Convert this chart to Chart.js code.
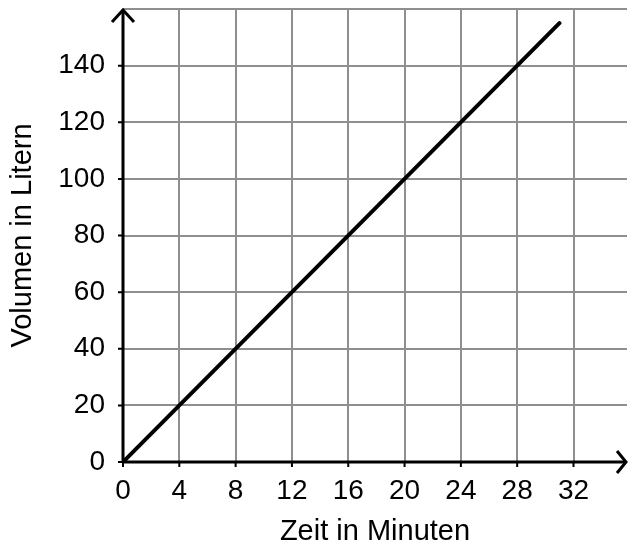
<!DOCTYPE html>
<html>
<head>
<meta charset="utf-8">
<script src="https://cdn.jsdelivr.net/npm/chart.js@4/dist/chart.umd.min.js"></script>
<style>
  html, body { margin: 0; padding: 0; background: #fff; }
  #wrap { width: 628px; height: 546px; }
</style>
</head>
<body>
<div id="wrap"><canvas id="volChart" width="628" height="546"></canvas></div>
<script>
// Werte
const zeitMin = [0, 31];
const volumenL = [0, 155];
const xTickStep = 4;
const yTickStep = 20;
const xMax = 35.8;
const yMax = 160;

const tickFont = { family: "'Liberation Sans', Arial, sans-serif", size: 28 };
const titleFont = { family: "'Liberation Sans', Arial, sans-serif", size: 29, lineHeight: 1 };

// Achsen mit Pfeilen und kleinen Strichen
const arrowAxes = {
  id: 'arrowAxes',
  afterDatasetsDraw(chart) {
    const { ctx, chartArea: a, scales: { x, y } } = chart;
    const x0 = x.getPixelForValue(0), y0 = y.getPixelForValue(0);
    ctx.save();
    ctx.strokeStyle = '#000';
    ctx.lineCap = 'butt';
    // tick marks
    ctx.lineWidth = 2;
    ctx.beginPath();
    x.ticks.forEach(t => {
      const px = x.getPixelForValue(t.value);
      ctx.moveTo(px, y0); ctx.lineTo(px, y0 + 5);
    });
    y.ticks.forEach(t => {
      if (t.value >= yMax) return;
      const py = y.getPixelForValue(t.value);
      ctx.moveTo(x0 - 5, py); ctx.lineTo(x0, py);
    });
    ctx.stroke();
    // axis lines
    ctx.lineWidth = 3;
    ctx.beginPath();
    ctx.moveTo(x0, y0); ctx.lineTo(x0, a.top + 1);
    ctx.moveTo(x0, y0); ctx.lineTo(a.right - 1, y0);
    ctx.stroke();
    // arrow heads
    ctx.lineJoin = 'miter';
    ctx.beginPath();
    ctx.moveTo(x0 - 11, a.top + 13); ctx.lineTo(x0, a.top + 1); ctx.lineTo(x0 + 11, a.top + 13);
    ctx.moveTo(a.right - 10, y0 - 11); ctx.lineTo(a.right - 1, y0); ctx.lineTo(a.right - 10, y0 + 11);
    ctx.stroke();
    ctx.restore();
  }
};

new Chart(document.getElementById('volChart').getContext('2d'), {
  type: 'line',
  data: {
    datasets: [{
      label: 'Volumen',
      data: zeitMin.map((t, i) => ({ x: t, y: volumenL[i] })),
      borderColor: '#000',
      borderWidth: 4,
      borderCapStyle: 'round',
      pointRadius: 0,
      tension: 0
    }]
  },
  options: {
    responsive: false,
    animation: false,
    layout: { padding: { top: 9, right: 1, left: 0, bottom: 0 } },
    plugins: {
      legend: { display: false },
      tooltip: { enabled: false }
    },
    scales: {
      x: {
        type: 'linear',
        min: 0,
        max: xMax,
        afterFit: s => { s.height = 84; s.paddingLeft = 0; s.paddingRight = 0; },
        border: { display: false },
        grid: { color: '#8f8f8f', lineWidth: 2, drawTicks: false },
        ticks: {
          stepSize: xTickStep,
          includeBounds: false,
          padding: 12,
          color: '#000',
          font: tickFont,
          maxRotation: 0
        },
        title: {
          display: true,
          text: 'Zeit in Minuten',
          color: '#000',
          font: titleFont,
          padding: { top: 0, bottom: 0 }
        }
      },
      y: {
        min: 0,
        max: yMax,
        afterFit: s => { s.width = 123; s.paddingTop = 0; s.paddingBottom = 0; },
        border: { display: false },
        grid: { color: '#8f8f8f', lineWidth: 2, drawTicks: false },
        ticks: {
          stepSize: yTickStep,
          padding: 18,
          color: '#000',
          font: tickFont,
          callback: v => (v >= yMax ? '' : v)
        },
        title: {
          display: true,
          text: 'Volumen in Litern',
          color: '#000',
          font: titleFont,
          padding: { top: 8, bottom: 0 }
        }
      }
    }
  },
  plugins: [arrowAxes]
});
</script>
</body>
</html>
